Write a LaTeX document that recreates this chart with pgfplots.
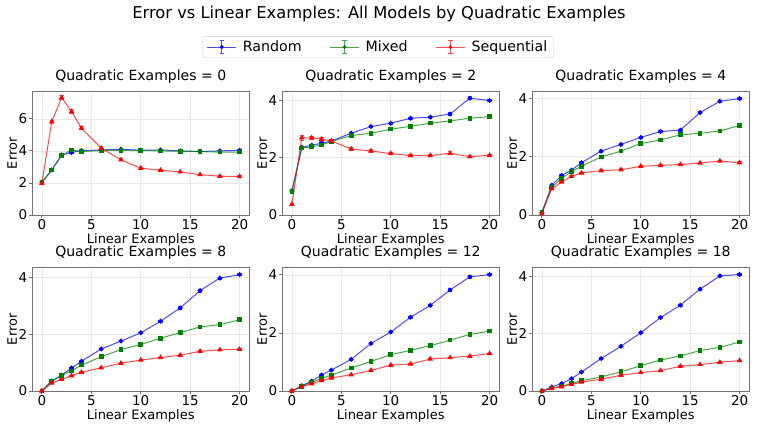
\documentclass[border=0pt]{standalone}
\usepackage{fontspec}
\setmainfont{DejaVu Sans}
\usepackage{pgfplots}
\usepackage{pgfplotstable}
\pgfplotsset{compat=1.18}

\definecolor{cR}{RGB}{0,0,255}
\definecolor{cM}{RGB}{0,128,0}
\definecolor{cS}{RGB}{255,0,0}

% x = linear examples; r/g/s = Random/Mixed/Sequential error, *e = std error
\pgfplotstableread{
x  r    re   g    ge   s    se
0  2.04 0.04 2.04 0.04 1.98 0.05
1  2.81 0.04 2.81 0.04 5.83 0.10
2  3.75 0.05 3.72 0.05 7.33 0.12
3  3.90 0.05 4.06 0.05 6.46 0.10
4  4.02 0.04 3.96 0.04 5.42 0.10
6  4.06 0.04 4.02 0.04 4.17 0.08
8  4.10 0.05 4.04 0.04 3.44 0.06
10 4.04 0.04 4.02 0.04 2.92 0.05
12 4.06 0.04 4.00 0.04 2.79 0.04
14 4.00 0.04 3.98 0.04 2.69 0.04
16 3.96 0.04 3.96 0.04 2.52 0.04
18 4.00 0.04 3.92 0.05 2.42 0.04
20 4.04 0.04 3.92 0.04 2.40 0.04
}\tA
\pgfplotstableread{
x  r    re   g    ge   s    se
0  0.84 0.03 0.81 0.03 0.37 0.04
1  2.36 0.04 2.33 0.04 2.69 0.08
2  2.43 0.04 2.38 0.04 2.69 0.06
3  2.50 0.04 2.44 0.04 2.64 0.06
4  2.58 0.04 2.56 0.04 2.58 0.05
6  2.85 0.04 2.77 0.04 2.30 0.04
8  3.08 0.04 2.85 0.04 2.23 0.04
10 3.20 0.04 2.99 0.04 2.14 0.04
12 3.37 0.04 3.09 0.04 2.07 0.04
14 3.41 0.04 3.20 0.04 2.07 0.04
16 3.52 0.04 3.28 0.04 2.15 0.05
18 4.07 0.06 3.37 0.04 2.03 0.04
20 3.99 0.04 3.43 0.04 2.08 0.04
}\tB
\pgfplotstableread{
x  r    re   g    ge   s    se
0  0.08 0.02 0.10 0.02 0.05 0.02
1  1.02 0.03 0.95 0.03 0.90 0.03
2  1.36 0.03 1.26 0.03 1.13 0.03
3  1.54 0.03 1.49 0.03 1.33 0.03
4  1.79 0.03 1.67 0.03 1.44 0.03
6  2.19 0.03 1.99 0.03 1.52 0.03
8  2.42 0.03 2.19 0.03 1.55 0.03
10 2.66 0.03 2.45 0.03 1.67 0.03
12 2.86 0.03 2.57 0.03 1.70 0.03
14 2.91 0.03 2.75 0.03 1.73 0.03
16 3.51 0.04 2.80 0.03 1.78 0.03
18 3.90 0.04 2.88 0.03 1.85 0.03
20 3.99 0.04 3.07 0.03 1.79 0.03
}\tC
\pgfplotstableread{
x  r    re   g    ge   s    se
0  0.00 0.01 0.00 0.01 0.00 0.01
1  0.35 0.02 0.35 0.02 0.28 0.02
2  0.56 0.02 0.55 0.02 0.41 0.02
3  0.81 0.03 0.71 0.02 0.54 0.02
4  1.05 0.03 0.91 0.02 0.66 0.02
6  1.48 0.03 1.21 0.03 0.82 0.02
8  1.76 0.03 1.46 0.03 0.98 0.02
10 2.05 0.03 1.64 0.03 1.09 0.02
12 2.46 0.03 1.86 0.03 1.18 0.02
14 2.93 0.04 2.06 0.03 1.26 0.02
16 3.54 0.05 2.26 0.03 1.40 0.02
18 3.98 0.04 2.34 0.03 1.45 0.02
20 4.10 0.04 2.51 0.03 1.47 0.02
}\tD
\pgfplotstableread{
x  r    re   g    ge   s    se
0  0.00 0.01 0.00 0.01 0.00 0.01
1  0.18 0.02 0.16 0.02 0.15 0.02
2  0.34 0.02 0.30 0.02 0.25 0.02
3  0.55 0.02 0.43 0.02 0.36 0.02
4  0.72 0.02 0.55 0.02 0.45 0.02
6  1.09 0.03 0.79 0.02 0.56 0.02
8  1.64 0.03 1.02 0.02 0.71 0.02
10 2.03 0.03 1.25 0.02 0.89 0.02
12 2.54 0.03 1.40 0.02 0.93 0.02
14 2.95 0.03 1.56 0.02 1.10 0.02
16 3.48 0.05 1.75 0.02 1.15 0.02
18 3.93 0.04 1.95 0.03 1.20 0.02
20 4.01 0.04 2.06 0.03 1.29 0.02
}\tE
\pgfplotstableread{
x  r    re   g    ge   s    se
0  0.00 0.01 0.00 0.01 0.00 0.01
1  0.14 0.02 0.10 0.02 0.09 0.02
2  0.26 0.02 0.17 0.02 0.15 0.02
3  0.43 0.02 0.26 0.02 0.23 0.02
4  0.66 0.03 0.36 0.02 0.31 0.02
6  1.13 0.03 0.49 0.02 0.41 0.02
8  1.56 0.03 0.67 0.02 0.55 0.02
10 2.03 0.03 0.88 0.02 0.64 0.02
12 2.56 0.03 1.08 0.02 0.71 0.02
14 2.99 0.03 1.22 0.02 0.86 0.02
16 3.55 0.04 1.41 0.02 0.92 0.02
18 4.01 0.03 1.52 0.02 1.00 0.02
20 4.06 0.03 1.71 0.02 1.06 0.02
}\tF

\pgfplotsset{
  sub/.style={
    width=217.5pt, height=123.4pt, scale only axis,
    anchor=south west,
    xmin=-1, xmax=21, ymin=0,
    xtick={0,5,10,15,20},
    xtick pos=lower, ytick pos=left,
    grid=major, grid style={black!9, line width=0.6pt},
    axis line style={black!55, line width=0.8pt},
    tick style={black!55, line width=0.8pt},
    tick align=outside, major tick length=3pt,
    /pgf/number format/assume math mode=true,
    tick label style={font=\fontsize{13.5}{14}\selectfont},
    xticklabel style={inner sep=1.5pt},
    yticklabel style={inner sep=1.5pt},
    xlabel={Linear Examples}, ylabel={Error},
    xlabel style={at={(axis description cs:0.5,-0.229)}, anchor=base,
      font=\fontsize{13}{14}\selectfont},
    ylabel style={at={(axis description cs:-0.069,0.5)}, anchor=base,
      font=\fontsize{13}{14}\selectfont},
    title style={at={(axis description cs:0.5,1.04)}, anchor=base,
      font=\fontsize{14}{15}\selectfont},
  },
  ser/.style={line width=1pt, draw opacity=0.7,
    mark options={solid, draw opacity=1, fill opacity=1},
    error bars/y dir=both, error bars/y explicit,
    error bars/error bar style={line width=0.9pt, draw opacity=0.7},
    error bars/error mark options={rotate=90, mark size=2.2pt, line width=0.9pt}},
  rnd/.style={ser, cR, mark=*, mark size=1.9pt},
  mix/.style={ser, cM, mark=square*, mark size=1.8pt},
  sqn/.style={ser, cS, mark=triangle*, mark size=2.2pt},
  legerr/.style={legend image code/.code={
    \draw[##1, line width=1pt, opacity=0.7] (0pt,0pt) -- (29pt,0pt);
    \draw[##1, line width=0.9pt, opacity=0.7]
      (14.5pt,-6.5pt) -- (14.5pt,6.5pt)
      (12.3pt,-6.5pt) -- (16.7pt,-6.5pt)
      (12.3pt,6.5pt) -- (16.7pt,6.5pt);
    \fill[##1] (14.5pt,0pt) circle (1.7pt);
  }},
}

\newcommand{\three}[1]{%
  \addplot[rnd] table[x=x, y=r, y error=re] {#1};
  \addplot[mix] table[x=x, y=g, y error=ge] {#1};
  \addplot[sqn] table[x=x, y=s, y error=se] {#1};
}

\begin{document}
\begin{tikzpicture}
\path[use as bounding box] (0pt,0pt) rectangle (758pt,428pt);

\node[anchor=base, font=\fontsize{16.3}{18}\selectfont] at (379pt,409.7pt)
  {Error vs Linear Examples: All Models by Quadratic Examples};

% top row
\begin{axis}[sub, at={(32pt,213pt)}, ymax=7.7, ytick={0,2,4,6},
  title={Quadratic Examples = 0},
  legend columns=3,
  legend style={at={(axis description cs:1.591,1.361)}, anchor=center,
    draw=black!18, rounded corners=2.5pt, fill=white,
    font=\fontsize{14.2}{15}\selectfont,
    inner xsep=4pt, inner ysep=2.5pt,
    /tikz/every odd column/.append style={column sep=4pt},
    /tikz/every even column/.append style={column sep=26pt}}]
\addlegendimage{legerr, cR}
\addlegendimage{legerr, cM}
\addlegendimage{legerr, cS}
\legend{Random, Mixed, Sequential}
\three{\tA}
\end{axis}

\begin{axis}[sub, at={(282pt,213pt)}, ymax=4.3, ytick={0,2,4},
  title={Quadratic Examples = 2}]
\three{\tB}
\end{axis}

\begin{axis}[sub, at={(532pt,213pt)}, ymax=4.23, ytick={0,2,4},
  title={Quadratic Examples = 4}]
\three{\tC}
\end{axis}

% bottom row
\begin{axis}[sub, at={(32pt,37pt)}, ymax=4.35, ytick={0,2,4},
  title={Quadratic Examples = 8}]
\three{\tD}
\end{axis}

\begin{axis}[sub, at={(282pt,37pt)}, ymax=4.25, ytick={0,2,4},
  title={Quadratic Examples = 12}]
\three{\tE}
\end{axis}

\begin{axis}[sub, at={(532pt,37pt)}, ymax=4.3, ytick={0,2,4},
  title={Quadratic Examples = 18}]
\three{\tF}
\end{axis}
\end{tikzpicture}
\end{document}
